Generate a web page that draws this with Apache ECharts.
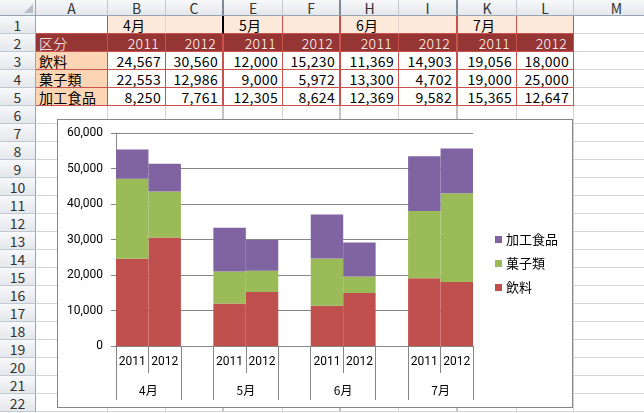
<!DOCTYPE html>
<html>
<head>
<meta charset="utf-8">
<script src="https://cdn.jsdelivr.net/npm/echarts@6/dist/echarts.min.js"></script>
<style>
body{margin:0;width:644px;height:413px;overflow:hidden;background:#fff;font-family:"Noto Sans CJK JP",sans-serif;position:relative;}
.c{position:absolute;box-sizing:border-box;font-size:14px;line-height:17px;white-space:nowrap;overflow:hidden;color:#000;}
.h{background:linear-gradient(#f7f8fa,#e4e7eb);color:#333;text-align:center;}
#wrap{position:absolute;left:57px;top:119px;width:516px;height:289px;box-sizing:border-box;border:1px solid #868686;background:#fff;}
#chart{position:absolute;left:58px;top:120px;width:514px;height:287px;}
</style>
</head>
<body>
<div id="sheet"></div>
<div id="wrap"></div>
<div id="chart"></div>
<script>
// ---- data ----
const months = ['4月', '5月', '6月', '7月'];
const years = ['2011', '2012'];
const products = ['飲料', '菓子類', '加工食品'];
const inryo = [24567, 30560, 12000, 15230, 11369, 14903, 19056, 18000];
const kashi = [22553, 12986, 9000, 5972, 13300, 4702, 19000, 25000];
const kakou = [8250, 7761, 12305, 8624, 12369, 9582, 15365, 12647];
const seriesValues = [inryo, kashi, kakou];
const colLetters = ['A', 'B', 'C', 'E', 'F', 'H', 'I', 'K', 'L', 'M'];
const yMin = 0, yMax = 60000, yStep = 10000;

// ---- spreadsheet ----
const xs = [0, 36, 108, 166, 224, 283, 341, 399, 458, 517, 574, 660];
const hdrH = 16, rowH = 18, nRows = 22;
const rowTop = r => hdrH + (r - 1) * rowH;
const sheet = document.getElementById('sheet');
function cell(x, y, w, h, style, text) {
  const d = document.createElement('div');
  d.className = 'c';
  d.style.cssText += `left:${x}px;top:${y}px;width:${w}px;height:${h}px;` + style;
  if (text !== undefined) d.textContent = text;
  sheet.appendChild(d);
  return d;
}
// corner
cell(0, 0, 36, hdrH, 'background:linear-gradient(#f7f8fa,#e4e7eb);border-right:1px solid #9aa5b1;border-bottom:1px solid #9aa5b1;');
cell(24, 4, 9, 9, 'width:0;height:0;border-left:9px solid transparent;border-bottom:9px solid #b8bec6;');
// column headers
for (let c = 1; c <= 10; c++) {
  const hidden = (c === 3 || c === 5 || c === 7);
  cell(xs[c], 0, xs[c + 1] - xs[c], hdrH,
    `border-right:${hidden ? 2 : 1}px solid ${hidden ? '#7f8a96' : '#c2c8d0'};border-bottom:1px solid #9aa5b1;line-height:16px;`, colLetters[c - 1]).className += ' h';
}
// row headers
for (let r = 1; r <= nRows; r++) {
  cell(0, rowTop(r), 36, rowH, 'border-right:1px solid #9aa5b1;border-bottom:1px solid #c2c8d0;line-height:18px;', String(r)).className += ' h';
}
const fmt = v => v.toLocaleString('en-US');
const tableData = [inryo, kashi, kakou];
for (let r = 1; r <= nRows; r++) {
  for (let c = 1; c <= 10; c++) {
    const inTable = r <= 5 && c <= 9;
    const hidden = (c === 3 || c === 5 || c === 7);
    let bg = '#fff', rc = '#d4d4d4', bc = '#d4d4d4', rw = hidden ? 2 : 1;
    let text, align = '', color = '#000', extra = '';
    if (inTable) {
      rc = '#c9524e'; bc = '#c9524e';
      if (r === 1) {
        if (c >= 2) bg = '#fde9d9';
        if (c === 2 || c === 6) rc = '#e2d2cb';
        if (c === 3) rc = '#000';
        if ((c - 2) % 2 === 0 && c >= 2) { text = months[(c - 2) / 2]; align = 'padding-left:15px;'; }
      } else if (r === 2) {
        bg = '#963634'; color = '#fff'; extra = 'font-weight:300;';
        if (c === 1) { text = '区分'; align = 'padding-left:3px;'; }
        else { text = years[(c - 2) % 2]; align = 'text-align:right;padding-right:6px;'; }
      } else {
        if (c === 1) { bg = '#fcd5b4'; text = products[r - 3]; align = 'padding-left:3px;'; }
        else { text = fmt(tableData[r - 3][c - 2]); align = 'text-align:right;padding-right:4px;'; }
      }
    } else if (hidden) {
      rc = '#c4c4c4';
    }
    cell(xs[c], rowTop(r), xs[c + 1] - xs[c], rowH,
      `background:${bg};border-right:${rw}px solid ${rc};border-bottom:1px solid ${bc};color:${color};line-height:18px;letter-spacing:0.3px;` + align + extra, text);
  }
}

// ---- chart ----
const cats = [];
const seriesData = products.map(() => []);
months.forEach((m, i) => {
  years.forEach((y, j) => {
    cats.push(y);
    seriesValues.forEach((vals, k) => seriesData[k].push(vals[i * years.length + j]));
  });
  if (i < months.length - 1) {
    cats.push('');
    seriesData.forEach(arr => arr.push(null));
  }
});
const groupSize = years.length + 1;
const tickVals = [], labelVals = [], yearTickVals = [];
for (let t = 0; t <= cats.length; t++) yearTickVals.push(t);
months.forEach((m, i) => {
  tickVals.push(i * groupSize, i * groupSize + years.length);
  labelVals.push(i * groupSize + years.length / 2);
});
const colors = ['#c0504d', '#9bbb59', '#8064a2'];
const axisColor = '#868686';
const chart = echarts.init(document.getElementById('chart'));
chart.setOption({
  animation: false,
  grid: { left: 58, top: 13, right: 99, bottom: 61 },
  legend: {
    orient: 'vertical', left: 432, top: 108,
    itemWidth: 7, itemHeight: 7, itemGap: 11, icon: 'rect',
    data: products.slice().reverse(),
    textStyle: { fontFamily: 'Noto Sans CJK JP', fontSize: 13, color: '#000', padding: [0, 0, 0, -1] }
  },
  xAxis: [
    {
      type: 'category', data: cats, position: 'bottom',
      axisLine: { lineStyle: { color: axisColor } },
      axisTick: { show: false },
      axisLabel: { interval: 0, margin: 10, fontFamily: 'Roboto', fontSize: 12, color: '#000' }
    },
    {
      type: 'value', min: 0, max: cats.length, position: 'bottom', offset: 0,
      axisLine: { show: false }, splitLine: { show: false },
      axisTick: { show: true, customValues: yearTickVals, length: 27, lineStyle: { color: axisColor } },
      axisLabel: { show: false }
    },
    {
      type: 'value', min: 0, max: cats.length, position: 'bottom', offset: 27,
      axisLine: { show: false }, splitLine: { show: false },
      axisTick: { show: true, customValues: tickVals, length: 27, lineStyle: { color: axisColor } },
      axisLabel: {
        customValues: labelVals, margin: 11,
        formatter: v => months[Math.round((v - years.length / 2) / groupSize)],
        fontFamily: 'Noto Sans CJK JP', fontSize: 12, color: '#000'
      }
    }
  ],
  yAxis: {
    type: 'value', min: yMin, max: yMax, interval: yStep,
    axisLine: { show: true, lineStyle: { color: axisColor } },
    axisTick: { show: true, length: 5, lineStyle: { color: axisColor } },
    splitLine: { lineStyle: { color: axisColor } },
    axisLabel: { margin: 13, formatter: v => fmt(v), fontFamily: 'Roboto', fontSize: 12, color: '#000' }
  },
  series: products.map((p, k) => ({
    name: p, type: 'bar', stack: 'total', xAxisIndex: 0,
    barWidth: '100%', barCategoryGap: '0%',
    data: seriesData[k], itemStyle: { color: colors[k] }
  }))
});
</script>
</body>
</html>
